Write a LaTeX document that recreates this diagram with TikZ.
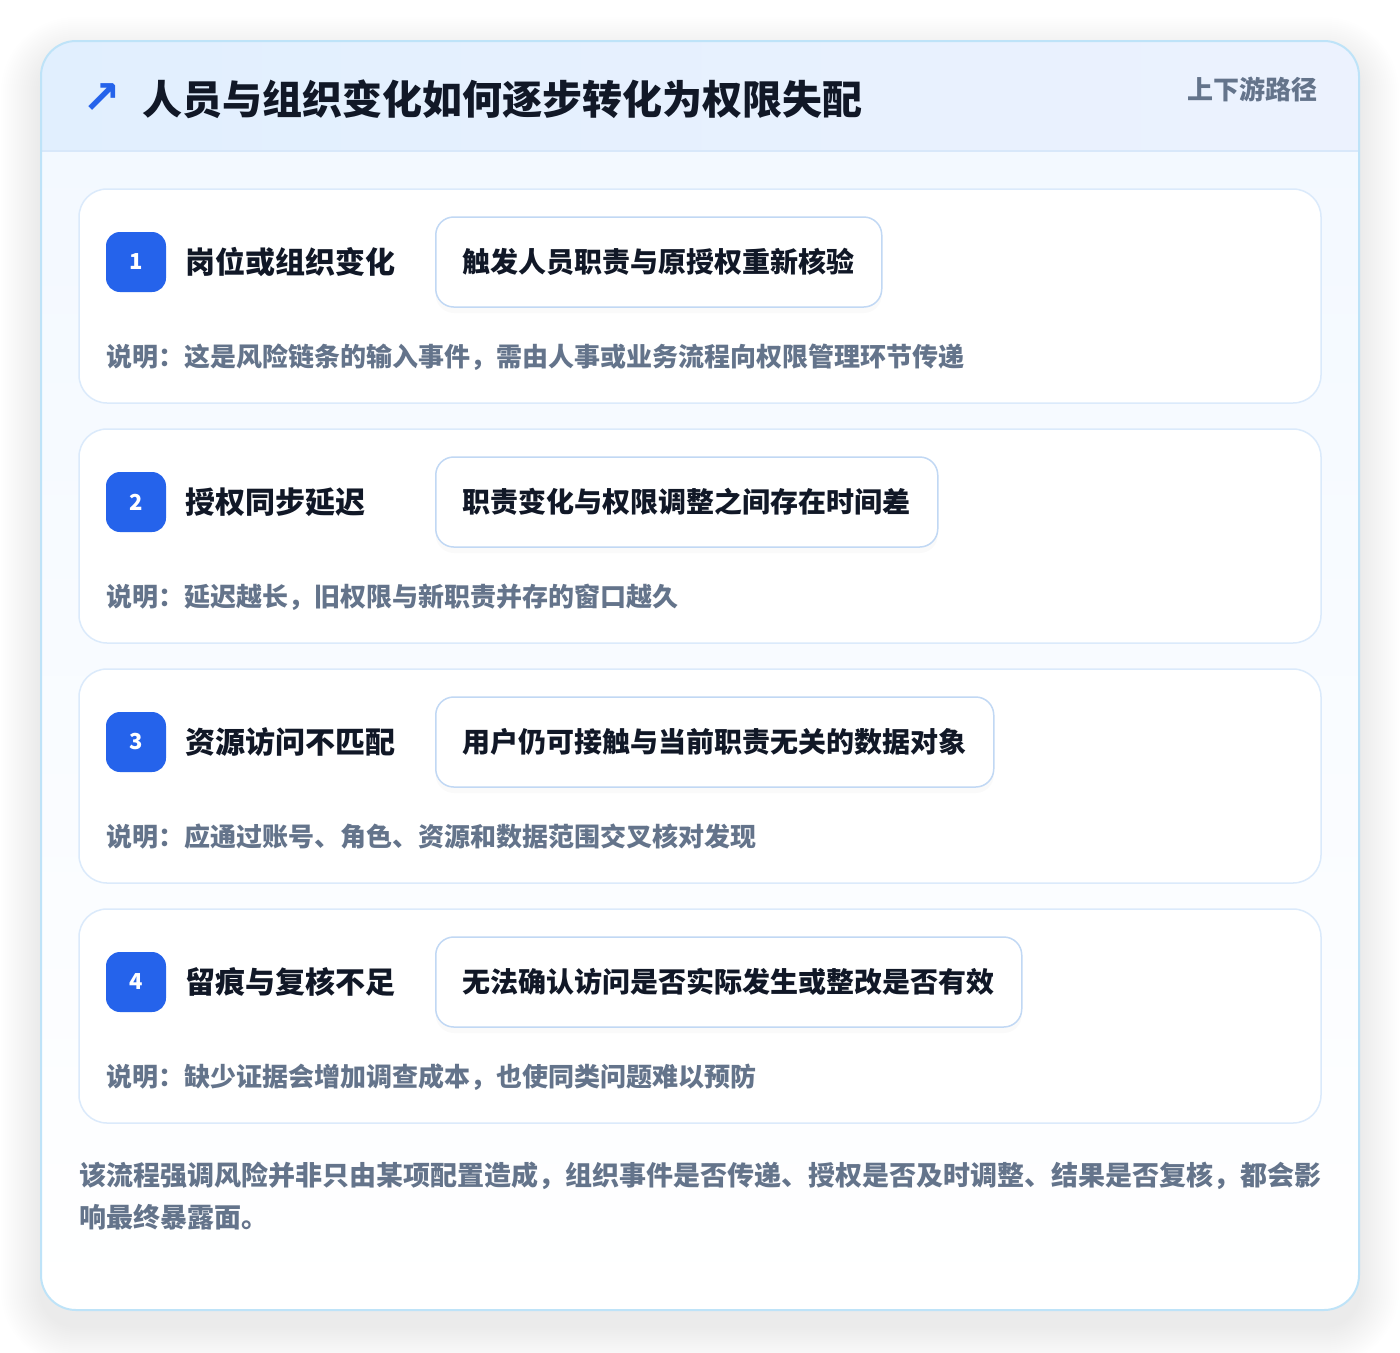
\documentclass[tikz,border=0pt]{standalone}
\usepackage{fontspec}
\setmainfont{Noto Sans CJK SC}
\newfontfamily\symfont{DejaVu Sans}
\usetikzlibrary{positioning, shadows}

\definecolor{inkdark}{HTML}{111827}
\definecolor{inkgray}{HTML}{64748B}
\definecolor{badgeblue}{HTML}{2563EB}
\definecolor{frameline}{HTML}{BEE3F8}
\definecolor{headleft}{HTML}{E1EFFE}
\definecolor{headright}{HTML}{ECF2FE}
\definecolor{headrule}{HTML}{D8E8FA}
\definecolor{cardline}{HTML}{DBEAFB}
\definecolor{pillline}{HTML}{C1D8F4}
\definecolor{bodytop}{HTML}{F2F8FF}

\tikzset{
  stepcard/.style={draw=cardline, line width=1.5, fill=white, rounded corners=28},
  badge/.style={fill=badgeblue, rounded corners=14, minimum width=60, minimum height=60,
    inner sep=0, text=white, font=\fontsize{22}{22}\selectfont\bfseries},
  steptitle/.style={anchor=west, inner sep=0, text=inkdark,
    font=\fontsize{30}{30}\selectfont\bfseries},
  pill/.style={anchor=west, draw=pillline, line width=1.5, fill=white, rounded corners=18,
    minimum height=90, inner xsep=27, text=inkdark, font=\fontsize{28}{28}\selectfont\bfseries,
    drop shadow={opacity=0.035, shadow xshift=0pt, shadow yshift=-6pt}},
  note/.style={anchor=west, inner sep=0, text=inkgray, font=\fontsize{26}{26}\selectfont\bfseries},
}

\begin{document}
\begin{tikzpicture}[x=1pt, y=-1pt]
  \useasboundingbox [fill=white] (0,0) rectangle (1400,1352);

  % soft shadow of the frame
  \foreach \r in {2,4,...,40}
    \fill [black, opacity=0.005, rounded corners=35+\r] (41-\r,57-\r) rectangle (1359+\r,1326+\r);

  % frame and header
  \fill [top color=bodytop, bottom color=white, rounded corners=35] (41,41) rectangle (1359,1310);
  \begin{scope}
    \clip [rounded corners=35] (41,41) rectangle (1359,1310);
    \fill [left color=headleft, right color=headright] (41,41) rectangle (1359,151);
    \draw [headrule, line width=1.5] (41,151) -- (1359,151);
  \end{scope}
  \draw [frameline, line width=2, rounded corners=35] (41,41) rectangle (1359,1310);

  \node (icon) [text=badgeblue, font=\symfont\fontsize{46}{46}\selectfont\bfseries, inner sep=0] at (102,99) {↗};
  \node (heading) [anchor=west, inner sep=0, text=inkdark, font=\fontsize{40}{40}\selectfont\bfseries]
    at (142,99) {人员与组织变化如何逐步转化为权限失配};
  \node (tag) [anchor=east, inner sep=0, text=inkgray, font=\fontsize{26}{26}\selectfont\bfseries]
    at (1318,89) {上下游路径};

  % step 1
  \draw [stepcard] (79,189) rectangle (1321,403);
  \node (badge1) [badge] at (136,262) {1};
  \node (title1) [steptitle, right = 19 of badge1] {岗位或组织变化};
  \node (pill1) [pill] at (435,262) {触发人员职责与原授权重新核验};
  \node (note1) [note] at (106,357) {说明：这是风险链条的输入事件，需由人事或业务流程向权限管理环节传递};

  % step 2
  \draw [stepcard] (79,429) rectangle (1321,643);
  \node (badge2) [badge] at (136,502) {2};
  \node (title2) [steptitle, right = 19 of badge2] {授权同步延迟};
  \node (pill2) [pill] at (435,502) {职责变化与权限调整之间存在时间差};
  \node (note2) [note] at (106,597) {说明：延迟越长，旧权限与新职责并存的窗口越久};

  % step 3
  \draw [stepcard] (79,669) rectangle (1321,883);
  \node (badge3) [badge] at (136,742) {3};
  \node (title3) [steptitle, right = 19 of badge3] {资源访问不匹配};
  \node (pill3) [pill] at (435,742) {用户仍可接触与当前职责无关的数据对象};
  \node (note3) [note] at (106,837) {说明：应通过账号、角色、资源和数据范围交叉核对发现};

  % step 4
  \draw [stepcard] (79,909) rectangle (1321,1123);
  \node (badge4) [badge] at (136,982) {4};
  \node (title4) [steptitle, right = 19 of badge4] {留痕与复核不足};
  \node (pill4) [pill] at (435,982) {无法确认访问是否实际发生或整改是否有效};
  \node (note4) [note] at (106,1077) {说明：缺少证据会增加调查成本，也使同类问题难以预防};

  % closing remark
  \node (summary) [anchor=west, inner sep=0, align=left, text=inkgray,
    font=\fontsize{27}{42}\selectfont\bfseries] at (79,1196)
    {该流程强调风险并非只由某项配置造成，组织事件是否传递、授权是否及时调整、结果是否复核，都会影\\响最终暴露面。};
\end{tikzpicture}
\end{document}
